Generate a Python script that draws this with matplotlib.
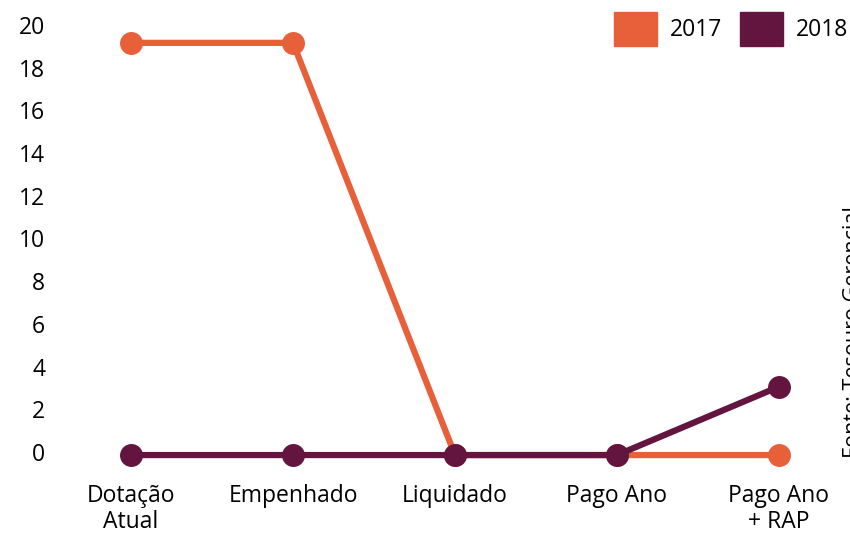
import matplotlib.pyplot as plt
from matplotlib.patches import Patch
from matplotlib.transforms import ScaledTranslation

plt.rcParams['font.family'] = ['Open Sans', 'DejaVu Sans']

categories = ["Dotação\nAtual", "Empenhado", "Liquidado", "Pago Ano", "Pago Ano\n+ RAP"]
series_names = ["2017", "2018"]
values_2017 = [19.3, 19.3, 0, 0, 0]
values_2018 = [0, 0, 0, 0, 3.2]
y_ticks = list(range(0, 21, 2))
source_text = "Fonte: Tesouro Gerencial"

orange = "#E8603A"
purple = "#631540"

fig = plt.figure(figsize=(8.5, 5.38), dpi=100)
ax = fig.add_axes([80 / 850, 68 / 538, 750 / 850, 450 / 538])

x = range(len(categories))
ax.plot(x, values_2017, color=orange, lw=4.5, marker="o", ms=15.5, solid_capstyle="round", zorder=2)
ax.plot(x, values_2018, color=purple, lw=4.5, marker="o", ms=15.5, solid_capstyle="round", zorder=3)

ax.set_xlim(-0.315, 4.315)
ax.set_ylim(-0.70, 20.37)
ax.set_xticks(list(x))
ax.set_xticklabels(categories, fontsize=16.5, linespacing=1.1)
ax.set_yticks(y_ticks)
ax.set_yticklabels([str(t) for t in y_ticks], fontsize=16.5)
ax.tick_params(axis="both", length=0)
ax.tick_params(axis="y", pad=25)
ax.tick_params(axis="x", pad=10)
for s in ax.spines.values():
    s.set_visible(False)

# y labels sit a few pixels above their values in the original
nudge = ScaledTranslation(0, 3 / 100, fig.dpi_scale_trans)
for lab in ax.get_yticklabels():
    lab.set_transform(lab.get_transform() + nudge)

handles = [Patch(color=orange), Patch(color=purple)]
fig.legend(handles, series_names, loc="upper right", bbox_to_anchor=(848 / 850, 1 - 12 / 538),
           ncol=2, frameon=False, fontsize=16.5, handlelength=1.88, handleheight=1.88,
           handletextpad=0.55, columnspacing=0.8, borderpad=0, borderaxespad=0)

# source note sits at the right edge and is cut off like in the original
fig.text(843 / 850, (538 - 458) / 538, source_text, rotation=90, ha="left", va="bottom", fontsize=15.5)

fig.savefig("out.png", dpi=100)
